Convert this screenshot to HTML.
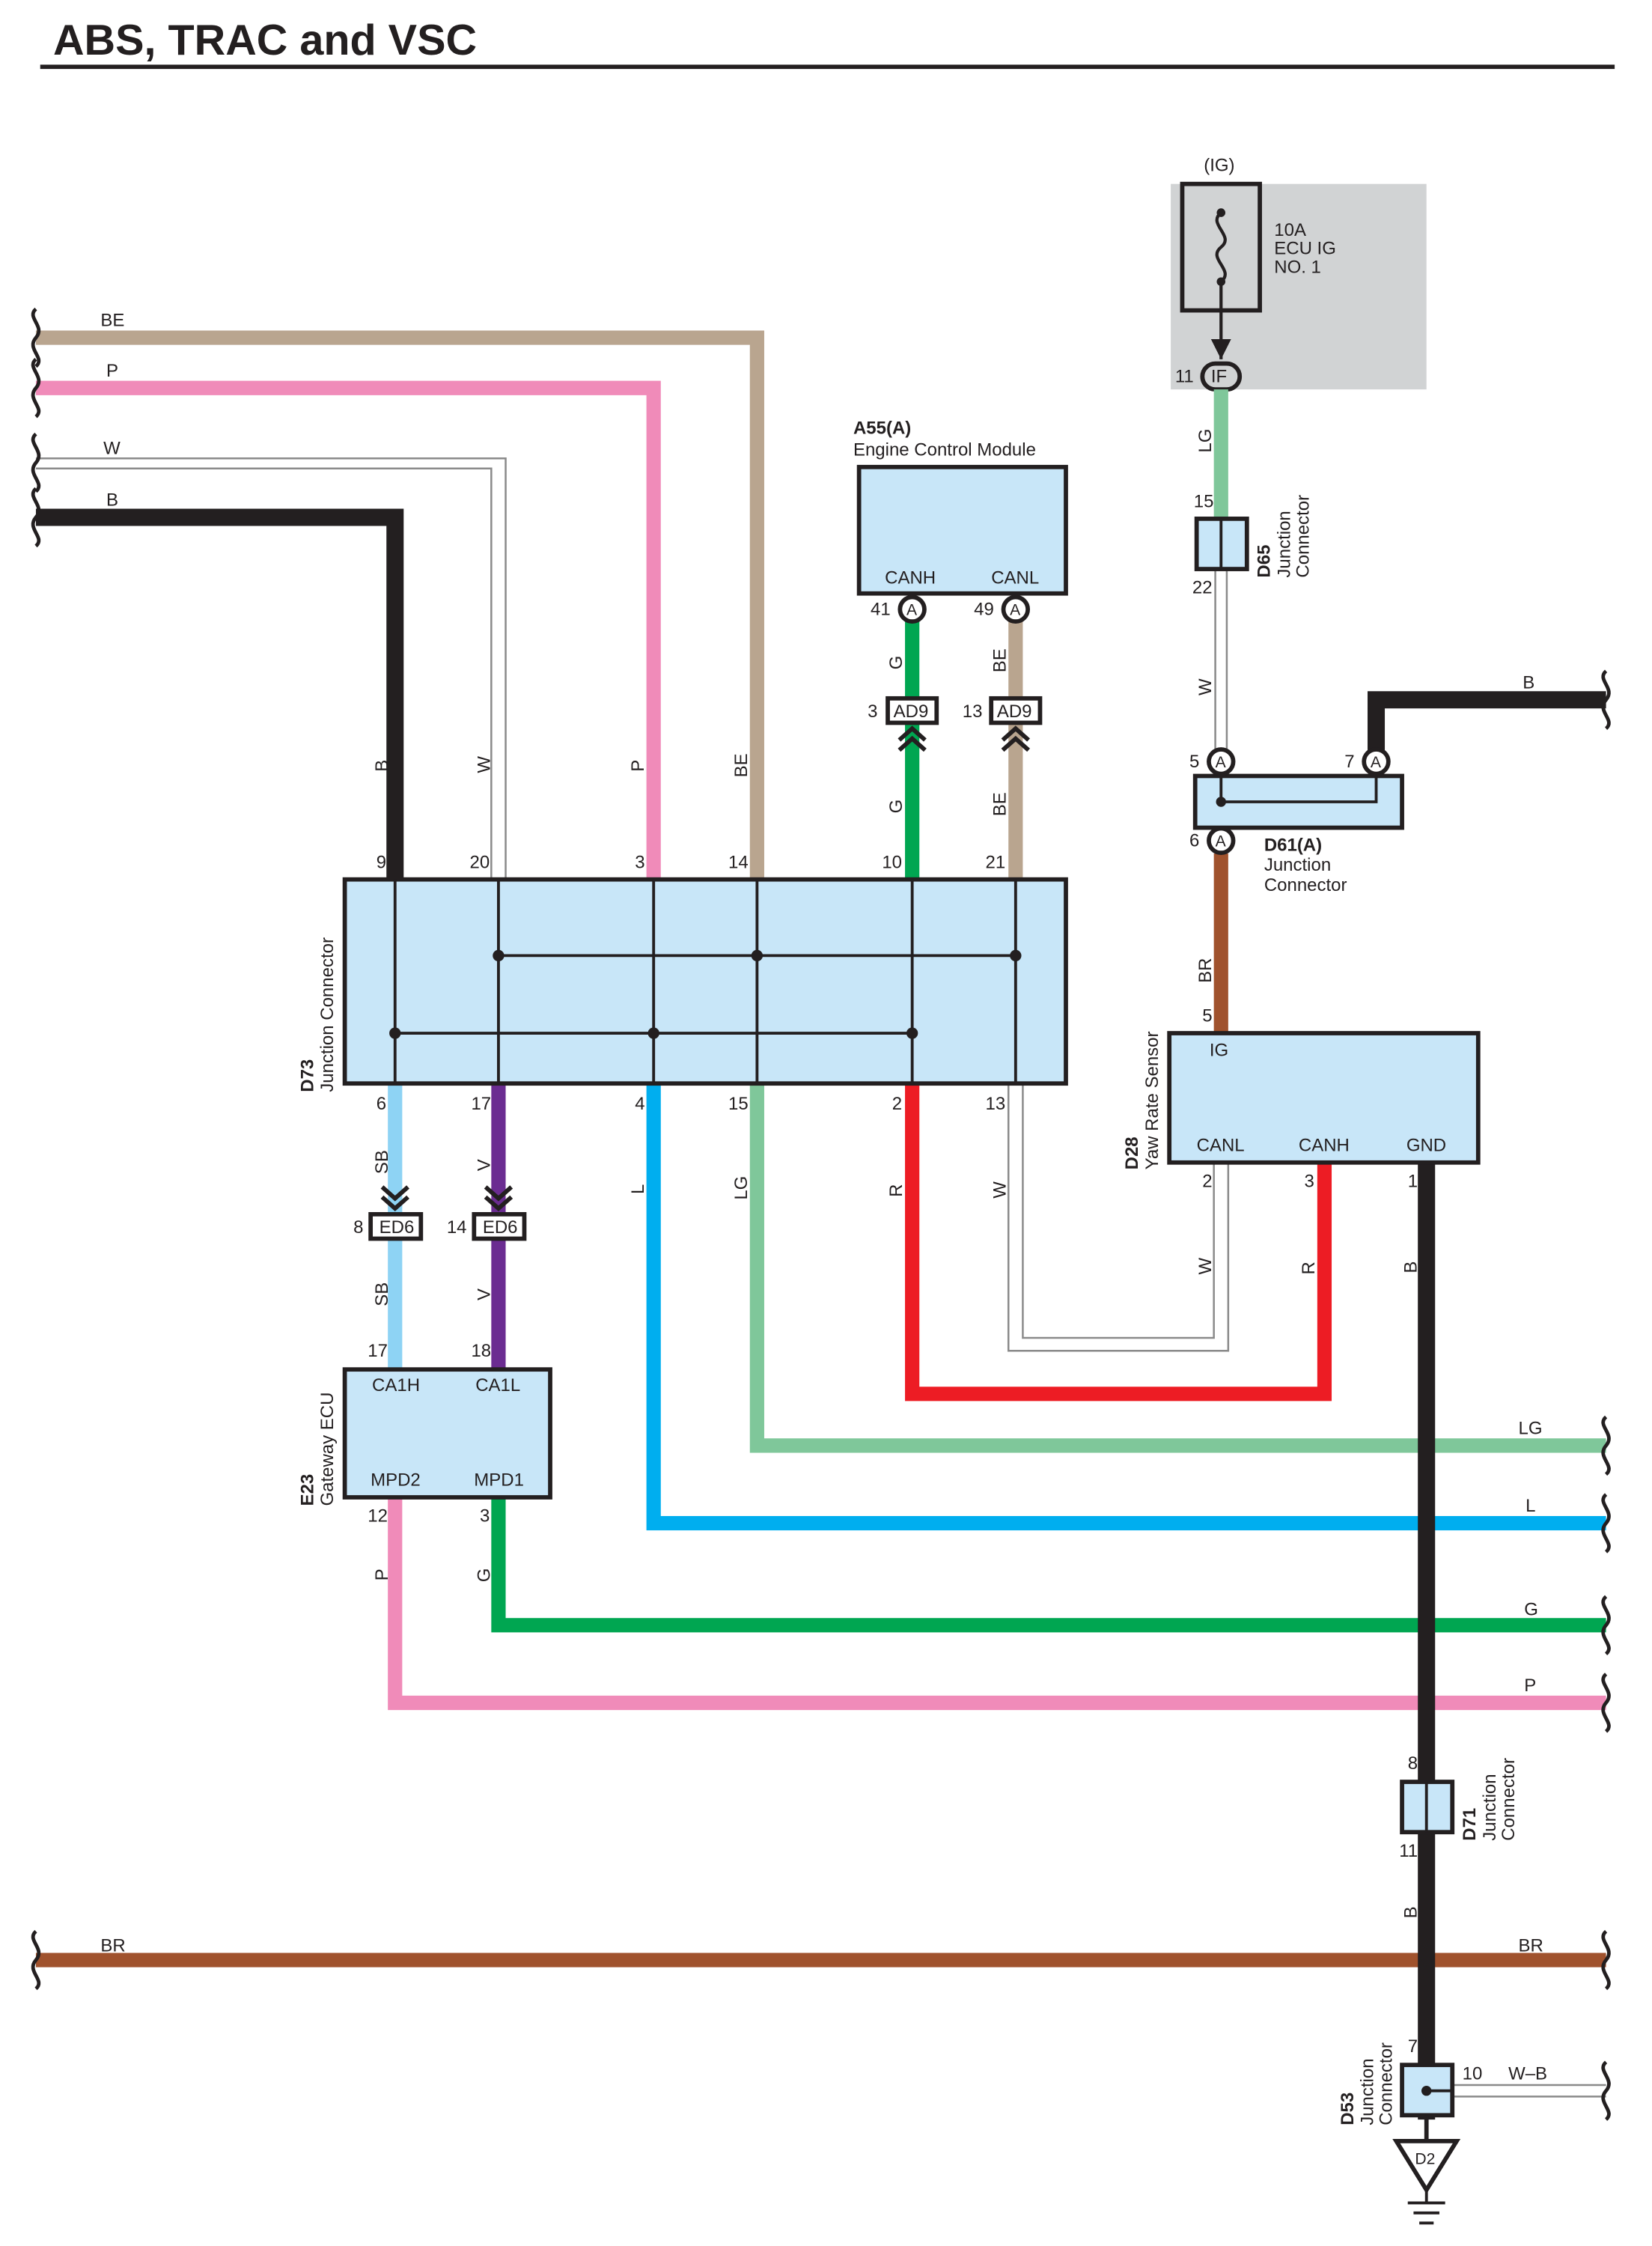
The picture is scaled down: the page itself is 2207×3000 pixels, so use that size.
<!DOCTYPE html>
<html><head><meta charset="utf-8"><style>
html,body{margin:0;padding:0;background:#fff}
svg{display:block}
text{font-family:"Liberation Sans",sans-serif;font-size:12.5px;fill:#231f20}
.b{font-weight:bold}
</style></head><body>
<svg width="2207" height="3000" viewBox="0 0 1150 1563" preserveAspectRatio="none" xmlns="http://www.w3.org/2000/svg">
<defs>
<path id="sq" d="M0,-20 c-7,6 7,12 0,20 c-7,8 7,14 0,20" fill="none" stroke="#231f20" stroke-width="2.5"/>
<g id="chu"><polyline points="-9,8 0,0 9,8" fill="none" stroke="#231f20" stroke-width="3"/><polyline points="-9,15 0,7 9,15" fill="none" stroke="#231f20" stroke-width="3"/></g>
<g id="chd"><polyline points="-9,-8 0,0 9,-8" fill="none" stroke="#231f20" stroke-width="3"/><polyline points="-9,-15 0,-7 9,-15" fill="none" stroke="#231f20" stroke-width="3"/></g>
</defs>
<text x="37" y="38" class="b" style="font-size:30px">ABS, TRAC and VSC</text>
<rect x="28" y="45" width="1096" height="3" fill="#231f20"/>

<rect x="815" y="128" width="178" height="143" fill="#d1d3d4"/>
<text x="838" y="119">(IG)</text>
<rect x="823" y="128" width="54" height="88" fill="none" stroke="#231f20" stroke-width="3"/>
<path d="M850,148 c-10,8 10,16 0,24 c-10,8 10,16 0,24 L850,250" fill="none" stroke="#231f20" stroke-width="2.2"/>
<circle cx="850" cy="148" r="3" fill="#231f20"/><circle cx="850" cy="196" r="3" fill="#231f20"/>
<polygon points="843,236 857,236 850,250" fill="#231f20"/>
<rect x="837" y="253" width="26" height="18" rx="9" fill="#d1d3d4" stroke="#231f20" stroke-width="3"/>
<text x="843" y="266">IF</text><text x="818" y="266">11</text>
<text x="887" y="164">10A</text><text x="887" y="177">ECU IG</text><text x="887" y="190">NO. 1</text>

<g fill="none" stroke-linejoin="miter">
<polyline points="25,235 527,235 527,612" stroke="#b9a58f" stroke-width="10"/>
<polyline points="25,270 455,270 455,612" stroke="#f08bb9" stroke-width="10"/>
<polyline points="25,319 352,319 352,612" stroke="#8a8a8a" stroke-width="1.3"/>
<polyline points="25,326 342,326 342,612" stroke="#8a8a8a" stroke-width="1.3"/>
<polyline points="25,360 275,360 275,612" stroke="#231f20" stroke-width="12"/>
<line x1="635" y1="430" x2="635" y2="612" stroke="#00a651" stroke-width="10"/>
<line x1="707" y1="430" x2="707" y2="612" stroke="#b9a58f" stroke-width="10"/>
<line x1="275" y1="754" x2="275" y2="953" stroke="#8ed3f4" stroke-width="10"/>
<line x1="347" y1="754" x2="347" y2="953" stroke="#6b2c91" stroke-width="10"/>
<polyline points="455,754 455,1060 1118,1060" stroke="#00aeef" stroke-width="10"/>
<polyline points="527,754 527,1006 1118,1006" stroke="#7fc79a" stroke-width="10"/>
<polyline points="635,754 635,970 922,970 922,809" stroke="#ed1c24" stroke-width="10"/>
<polyline points="702,754 702,940 855,940 855,809" stroke="#8a8a8a" stroke-width="1.3"/>
<polyline points="712,754 712,931 845,931 845,809" stroke="#8a8a8a" stroke-width="1.3"/>
<polyline points="347,1042 347,1131 1118,1131" stroke="#00a651" stroke-width="10"/>
<polyline points="275,1042 275,1185 1118,1185" stroke="#f08bb9" stroke-width="10"/>
<line x1="25" y1="1364" x2="1118" y2="1364" stroke="#a0522d" stroke-width="10"/>
<line x1="850" y1="271" x2="850" y2="362" stroke="#7fc79a" stroke-width="10"/>
<line x1="846" y1="396" x2="846" y2="522" stroke="#8a8a8a" stroke-width="1.3"/>
<line x1="854" y1="396" x2="854" y2="522" stroke="#8a8a8a" stroke-width="1.3"/>
<polyline points="958,522 958,487 1118,487" stroke="#231f20" stroke-width="12"/>
<line x1="850" y1="594" x2="850" y2="719" stroke="#a0522d" stroke-width="10"/>
<line x1="993" y1="809" x2="993" y2="1475" stroke="#231f20" stroke-width="12"/>
<line x1="1011" y1="1451" x2="1118" y2="1451" stroke="#8a8a8a" stroke-width="1.3"/>
<line x1="1011" y1="1459" x2="1118" y2="1459" stroke="#8a8a8a" stroke-width="1.3"/>
</g>

<use href="#sq" x="25" y="235"/><use href="#sq" x="25" y="270"/><use href="#sq" x="25" y="322"/><use href="#sq" x="25" y="360"/><use href="#sq" x="25" y="1364"/>
<use href="#sq" x="1118" y="487"/><use href="#sq" x="1118" y="1006"/><use href="#sq" x="1118" y="1060"/><use href="#sq" x="1118" y="1131"/><use href="#sq" x="1118" y="1185"/><use href="#sq" x="1118" y="1364"/><use href="#sq" x="1118" y="1455"/>

<text x="70" y="227">BE</text><text x="74" y="262">P</text><text x="72" y="316">W</text><text x="74" y="352">B</text><text x="70" y="1358">BR</text>
<text x="1060" y="479">B</text><text x="1057" y="998">LG</text><text x="1062" y="1052">L</text><text x="1061" y="1124">G</text><text x="1061" y="1177">P</text><text x="1057" y="1358">BR</text><text x="1050" y="1447">W–B</text>

<rect x="240" y="612" width="502" height="142" fill="#c8e6f8" stroke="#231f20" stroke-width="3"/>
<g stroke="#231f20" stroke-width="2">
<line x1="275" y1="612" x2="275" y2="754"/><line x1="347" y1="612" x2="347" y2="754"/><line x1="455" y1="612" x2="455" y2="754"/>
<line x1="527" y1="612" x2="527" y2="754"/><line x1="635" y1="612" x2="635" y2="754"/><line x1="707" y1="612" x2="707" y2="754"/>
<line x1="347" y1="665" x2="707" y2="665"/><line x1="275" y1="719" x2="635" y2="719"/>
</g>
<g fill="#231f20"><circle cx="347" cy="665" r="4"/><circle cx="527" cy="665" r="4"/><circle cx="707" cy="665" r="4"/><circle cx="275" cy="719" r="4"/><circle cx="455" cy="719" r="4"/><circle cx="635" cy="719" r="4"/></g>
<text x="262" y="604">9</text><text x="327" y="604">20</text><text x="442" y="604">3</text><text x="507" y="604">14</text><text x="614" y="604">10</text><text x="686" y="604">21</text>
<text x="262" y="772">6</text><text x="328" y="772">17</text><text x="442" y="772">4</text><text x="507" y="772">15</text><text x="621" y="772">2</text><text x="686" y="772">13</text>
<text transform="translate(218,760) rotate(-90)" class="b">D73</text>
<text transform="translate(232,760) rotate(-90)">Junction Connector</text>

<g>
<text transform="translate(270,537) rotate(-90)">B</text>
<text transform="translate(341,538) rotate(-90)">W</text>
<text transform="translate(448,537) rotate(-90)">P</text>
<text transform="translate(520,541) rotate(-90)">BE</text>
<text transform="translate(628,466) rotate(-90)">G</text>
<text transform="translate(700,468) rotate(-90)">BE</text>
<text transform="translate(628,566) rotate(-90)">G</text>
<text transform="translate(700,568) rotate(-90)">BE</text>
<text transform="translate(270,817) rotate(-90)">SB</text>
<text transform="translate(341,815) rotate(-90)">V</text>
<text transform="translate(448,831) rotate(-90)">L</text>
<text transform="translate(520,835) rotate(-90)">LG</text>
<text transform="translate(628,833) rotate(-90)">R</text>
<text transform="translate(700,834) rotate(-90)">W</text>
<text transform="translate(270,909) rotate(-90)">SB</text>
<text transform="translate(341,905) rotate(-90)">V</text>
<text transform="translate(270,1100) rotate(-90)">P</text>
<text transform="translate(341,1101) rotate(-90)">G</text>
<text transform="translate(843,315) rotate(-90)">LG</text>
<text transform="translate(843,484) rotate(-90)">W</text>
<text transform="translate(843,684) rotate(-90)">BR</text>
<text transform="translate(843,887) rotate(-90)">W</text>
<text transform="translate(915,887) rotate(-90)">R</text>
<text transform="translate(986,886) rotate(-90)">B</text>
<text transform="translate(986,1335) rotate(-90)">B</text>
</g>

<use href="#chd" x="275" y="841"/><use href="#chd" x="347" y="841"/>
<rect x="258" y="845" width="35" height="17" fill="#fff" stroke="#231f20" stroke-width="3"/>
<rect x="330" y="845" width="35" height="17" fill="#fff" stroke="#231f20" stroke-width="3"/>
<text x="264" y="858">ED6</text><text x="336" y="858">ED6</text>
<text x="246" y="858">8</text><text x="311" y="858">14</text>

<rect x="240" y="953" width="143" height="89" fill="#c8e6f8" stroke="#231f20" stroke-width="3"/>
<text x="259" y="968">CA1H</text><text x="331" y="968">CA1L</text><text x="258" y="1034">MPD2</text><text x="330" y="1034">MPD1</text>
<text x="256" y="944">17</text><text x="328" y="944">18</text><text x="256" y="1059">12</text><text x="334" y="1059">3</text>
<text transform="translate(218,1048) rotate(-90)" class="b">E23</text>
<text transform="translate(232,1048) rotate(-90)">Gateway ECU</text>

<text x="594" y="302" class="b">A55(A)</text><text x="594" y="317">Engine Control Module</text>
<rect x="598" y="325" width="144" height="88" fill="#c8e6f8" stroke="#231f20" stroke-width="3"/>
<text x="616" y="406">CANH</text><text x="690" y="406">CANL</text>
<circle cx="635" cy="424" r="8.5" fill="#fff" stroke="#231f20" stroke-width="3"/><text x="631" y="428" style="font-size:11px">A</text>
<circle cx="707" cy="424" r="8.5" fill="#fff" stroke="#231f20" stroke-width="3"/><text x="703" y="428" style="font-size:11px">A</text>
<text x="606" y="428">41</text><text x="678" y="428">49</text>
<rect x="618" y="486" width="34" height="17" fill="#fff" stroke="#231f20" stroke-width="3"/>
<rect x="690" y="486" width="34" height="17" fill="#fff" stroke="#231f20" stroke-width="3"/>
<text x="622" y="499">AD9</text><text x="694" y="499">AD9</text>
<text x="604" y="499">3</text><text x="670" y="499">13</text>
<use href="#chu" x="635" y="507"/><use href="#chu" x="707" y="507"/>

<rect x="833" y="361" width="35" height="35" fill="#c8e6f8" stroke="#231f20" stroke-width="3"/>
<line x1="850" y1="361" x2="850" y2="396" stroke="#231f20" stroke-width="2"/>
<text x="831" y="353">15</text><text x="830" y="413">22</text>
<text transform="translate(884,402) rotate(-90)" class="b">D65</text>
<text transform="translate(898,402) rotate(-90)">Junction</text>
<text transform="translate(911,402) rotate(-90)">Connector</text>

<rect x="832" y="540" width="144" height="36" fill="#c8e6f8" stroke="#231f20" stroke-width="3"/>
<polyline points="850,530 850,558 958,558 958,530" fill="none" stroke="#231f20" stroke-width="2"/>
<circle cx="850" cy="558" r="3.5" fill="#231f20"/>
<circle cx="850" cy="530" r="8.5" fill="#fff" stroke="#231f20" stroke-width="3"/><text x="846" y="534" style="font-size:11px">A</text>
<circle cx="958" cy="530" r="8.5" fill="#fff" stroke="#231f20" stroke-width="3"/><text x="954" y="534" style="font-size:11px">A</text>
<circle cx="850" cy="585" r="8.5" fill="#fff" stroke="#231f20" stroke-width="3"/><text x="846" y="589" style="font-size:11px">A</text>
<text x="828" y="534">5</text><text x="936" y="534">7</text><text x="828" y="589">6</text>
<text x="880" y="592" class="b">D61(A)</text><text x="880" y="606">Junction</text><text x="880" y="620">Connector</text>

<rect x="814" y="719" width="215" height="90" fill="#c8e6f8" stroke="#231f20" stroke-width="3"/>
<text x="842" y="735">IG</text><text x="833" y="801">CANL</text><text x="904" y="801">CANH</text><text x="979" y="801">GND</text>
<text x="837" y="711">5</text><text x="837" y="826">2</text><text x="908" y="826">3</text><text x="980" y="826">1</text>
<text transform="translate(792,814) rotate(-90)" class="b">D28</text>
<text transform="translate(806,814) rotate(-90)">Yaw Rate Sensor</text>

<rect x="976" y="1240" width="35" height="35" fill="#c8e6f8" stroke="#231f20" stroke-width="3"/>
<line x1="993" y1="1240" x2="993" y2="1275" stroke="#231f20" stroke-width="2"/>
<text x="980" y="1231">8</text><text x="974" y="1292">11</text>
<text transform="translate(1027,1281) rotate(-90)" class="b">D71</text>
<text transform="translate(1041,1281) rotate(-90)">Junction</text>
<text transform="translate(1054,1281) rotate(-90)">Connector</text>

<rect x="976" y="1437" width="35" height="35" fill="#c8e6f8" stroke="#231f20" stroke-width="3"/>
<line x1="993" y1="1455" x2="1011" y2="1455" stroke="#231f20" stroke-width="2"/>
<circle cx="993" cy="1455" r="3.5" fill="#231f20"/>
<text x="980" y="1428">7</text><text x="1018" y="1447">10</text>
<text transform="translate(942,1479) rotate(-90)" class="b">D53</text>
<text transform="translate(956,1479) rotate(-90)">Junction</text>
<text transform="translate(969,1479) rotate(-90)">Connector</text>
<line x1="993" y1="1472" x2="993" y2="1490" stroke="#231f20" stroke-width="3"/>
<polygon points="972,1490 1014,1490 993,1524" fill="#fff" stroke="#231f20" stroke-width="3"/>
<text x="985" y="1506" style="font-size:11px">D2</text>
<line x1="993" y1="1524" x2="993" y2="1533" stroke="#231f20" stroke-width="2"/>
<line x1="980" y1="1533" x2="1006" y2="1533" stroke="#231f20" stroke-width="2"/>
<line x1="984" y1="1540" x2="1002" y2="1540" stroke="#231f20" stroke-width="2"/>
<line x1="988" y1="1547" x2="998" y2="1547" stroke="#231f20" stroke-width="2"/>
</svg>
</body></html>
